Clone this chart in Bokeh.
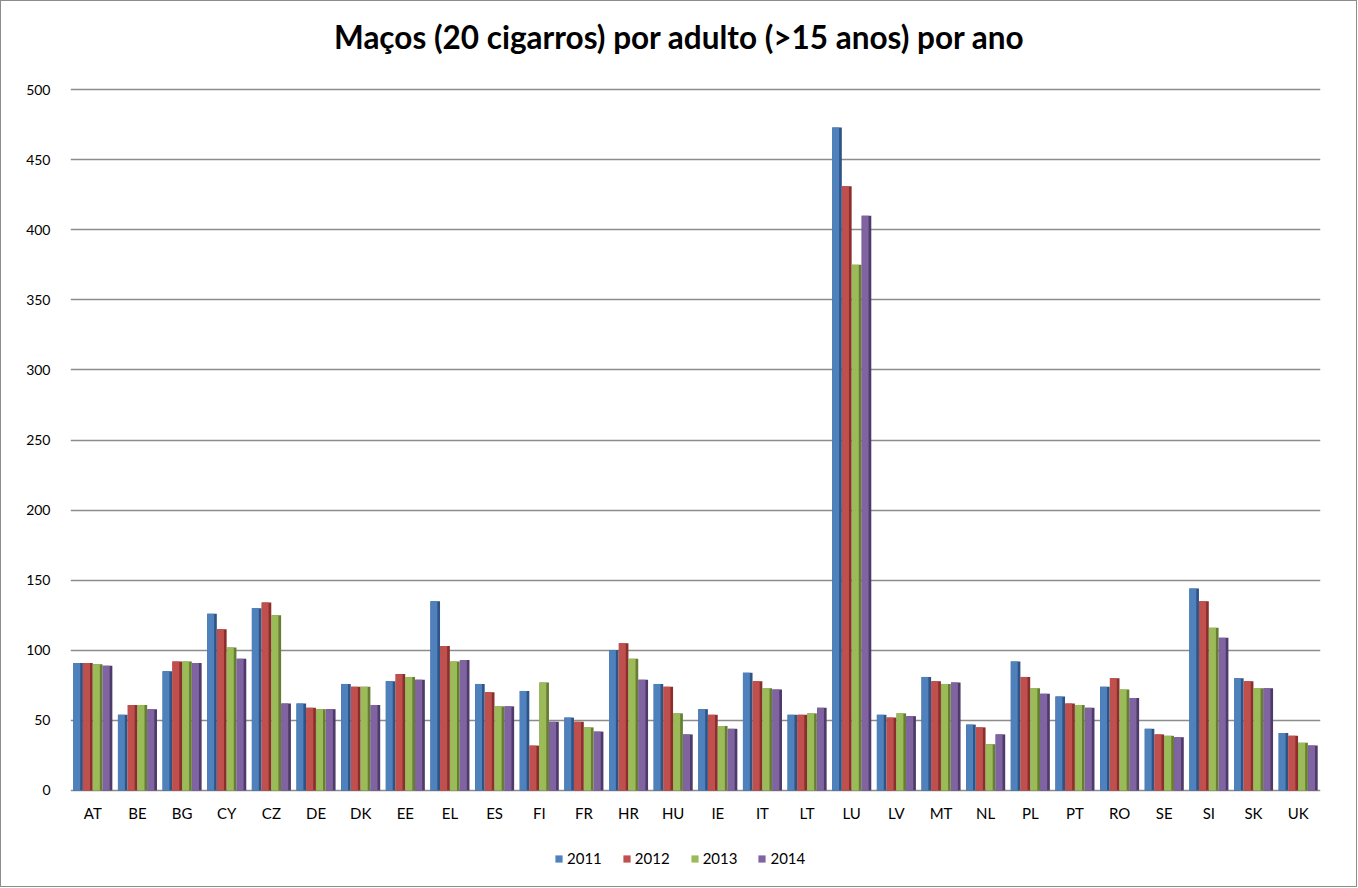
from bokeh.plotting import figure
from bokeh.models import ColumnDataSource, FactorRange, Range1d, Legend, LegendItem, Label
from bokeh.transform import dodge
from bokeh.embed import file_html
from bokeh.resources import INLINE

countries = ["AT", "BE", "BG", "CY", "CZ", "DE", "DK", "EE", "EL", "ES", "FI", "FR", "HR", "HU",
             "IE", "IT", "LT", "LU", "LV", "MT", "NL", "PL", "PT", "RO", "SE", "SI", "SK", "UK"]
years = ["2011", "2012", "2013", "2014"]
v2011 = [91, 54, 85, 126, 130, 62, 76, 78, 135, 76, 71, 52, 100, 76, 58, 84, 54, 473, 54, 81, 47, 92, 67, 74, 44, 144, 80, 41]
v2012 = [91, 61, 92, 115, 134, 59, 74, 83, 103, 70, 32, 49, 105, 74, 54, 78, 54, 431, 52, 78, 45, 81, 62, 80, 40, 135, 78, 39]
v2013 = [90, 61, 92, 102, 125, 58, 74, 81, 92, 60, 77, 45, 94, 55, 46, 73, 55, 375, 55, 76, 33, 73, 61, 72, 39, 116, 73, 34]
v2014 = [89, 58, 91, 94, 62, 58, 61, 79, 93, 60, 49, 42, 79, 40, 44, 72, 59, 410, 53, 77, 40, 69, 59, 66, 38, 109, 73, 32]
yticks = [0, 50, 100, 150, 200, 250, 300, 350, 400, 450, 500]
title_text = "Maços (20 cigarros) por adulto (>15 anos) por ano"

face_colors = ["#4F81BD", "#C0504D", "#9BBB59", "#8064A2"]
side_colors = ["#2E5384", "#8A2F2C", "#667D33", "#4F3B69"]

src = ColumnDataSource(dict(c=countries, y2011=v2011, y2012=v2012, y2013=v2013, y2014=v2014))

# the frame spans the full height so that title and legend areas lie inside it
p = figure(x_range=FactorRange(factors=countries, range_padding=0), y_range=Range1d(-68.5, 562.8),
           frame_width=1250, frame_height=885, output_backend="svg", toolbar_location=None,
           min_border_left=69, min_border_right=36, min_border_top=0, min_border_bottom=0)
p.title.text = ""

offsets = [-0.33, -0.11, 0.11, 0.33]
items = []
for i, yr in enumerate(years):
    col = "y" + yr
    p.vbar(x=dodge("c", offsets[i], range=p.x_range), top=col, width=0.215, source=src,
           fill_color=side_colors[i], line_color=None)
    r = p.vbar(x=dodge("c", offsets[i] - 0.03, range=p.x_range), top=col, width=0.155, source=src,
               fill_color=face_colors[i], line_color=None)
    items.append(LegendItem(label=yr, renderers=[r]))

title = Label(x=609, y=850, x_units="screen", y_units="screen", text=title_text,
              text_font="Lato", text_font_size="31.5px", text_font_style="bold",
              text_color="#000000", text_align="center", text_baseline="middle")
p.add_layout(title)

p.yaxis.ticker = yticks
p.yaxis.axis_line_color = None
p.yaxis.major_tick_line_color = None
p.yaxis.minor_tick_line_color = None
p.yaxis.major_tick_in = 0
p.yaxis.major_tick_out = 0
p.yaxis.major_label_standoff = 20
p.yaxis.major_label_text_font = "Lato"
p.yaxis.major_label_text_font_size = "14px"
p.yaxis.major_label_text_color = "#000000"

p.xaxis.fixed_location = 0
p.xaxis.axis_line_color = None
p.xaxis.major_tick_line_color = None
p.xaxis.major_tick_in = 0
p.xaxis.major_tick_out = 0
p.xaxis.major_label_standoff = 14
p.xaxis.major_label_text_font = "Lato"
p.xaxis.major_label_text_font_size = "15px"
p.xaxis.major_label_text_color = "#000000"

p.xgrid.grid_line_color = None
p.ygrid.grid_line_color = "#8C8C8C"
p.ygrid.grid_line_width = 1.6
p.outline_line_color = None
p.background_fill_color = "white"
p.border_fill_color = "white"

legend = Legend(items=items, orientation="horizontal", location=(484, 19),
                glyph_width=9, glyph_height=9, label_standoff=4, spacing=20,
                label_text_font="Lato", label_text_font_size="15px", label_text_color="#000000",
                border_line_color=None, background_fill_alpha=0, padding=3, margin=0)
p.add_layout(legend, "center")

p.styles = {"border": "1px solid #8C8C8C"}

open("out.html", "w").write(file_html(p, INLINE))
